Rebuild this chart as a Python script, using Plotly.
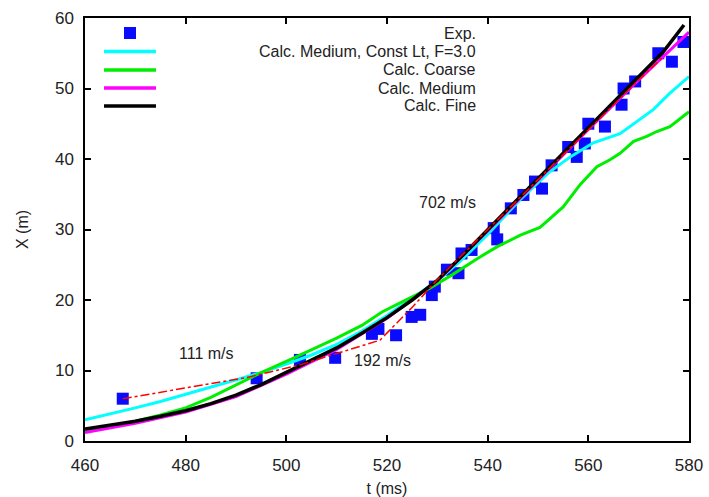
import plotly.graph_objects as go

# ---------------- data ----------------
exp_t = [467.5, 494.1, 502.7, 509.7, 517.0, 518.3, 521.8, 524.9, 526.6, 528.9, 529.5,
         531.9, 534.2, 534.8, 536.8, 541.2, 541.9, 544.6, 547.1, 549.4, 550.8, 552.7,
         556.0, 557.7, 559.3, 560.0, 563.3, 566.6, 567.0, 569.3, 573.9, 576.6, 578.9]
exp_x = [6.0, 8.9, 11.5, 11.8, 15.2, 15.9, 15.0, 17.6, 17.9, 20.7, 21.9,
         24.3, 23.8, 26.6, 27.1, 30.2, 28.6, 33.0, 34.9, 36.8, 35.8, 39.1,
         41.7, 40.3, 42.2, 45.0, 44.6, 47.7, 50.0, 51.0, 55.0, 53.8, 56.6]

fine_t = [460, 465, 470, 475, 480, 485, 490, 495, 500, 505, 510, 515, 520, 525,
          530, 535, 540, 545, 550, 555, 560, 565, 570, 575, 579]
fine_x = [1.7, 2.2, 2.8, 3.5, 4.3, 5.3, 6.5, 8.0, 9.7, 11.4, 13.2, 15.3, 17.5, 20.0,
          22.8, 26.3, 30.0, 33.6, 37.2, 40.8, 44.5, 48.0, 51.7, 55.3, 59.0]

medium_t = [460, 470, 480, 490, 500, 510, 520, 530, 540, 550, 560, 570, 580]
medium_x = [1.2, 2.5, 4.1, 6.3, 9.5, 13.0, 17.4, 22.7, 29.8, 37.0, 44.2, 51.2, 58.0]

constlt_t = [460, 465, 470, 475, 480, 485, 490, 495, 500, 505, 510, 515, 520, 525,
             530, 535, 540, 546.4, 552, 556.4, 561, 566.3, 572.9, 576, 580]
constlt_x = [3.0, 3.8, 4.7, 5.6, 6.6, 7.6, 8.6, 9.7, 10.9, 12.2, 13.7, 15.6, 17.8, 20.2,
             22.7, 25.8, 29.3, 34.2, 38.0, 40.3, 42.3, 43.6, 47.0, 49.2, 51.7]

coarse_t = [460, 465, 470, 475, 480, 485, 490, 495, 500, 505, 510, 515, 519, 524,
            528.6, 533, 538, 542, 546.5, 550.4, 552.4, 555, 558.4, 561.7, 564.3,
            566.3, 569, 571.6, 573.6, 576.2, 580]
coarse_x = [1.3, 2.0, 2.8, 3.7, 4.7, 6.2, 8.0, 9.7, 11.3, 12.9, 14.6, 16.4, 18.3, 20.1,
            21.7, 23.6, 25.9, 27.6, 29.2, 30.3, 31.6, 33.2, 36.4, 38.9, 39.9,
            40.8, 42.5, 43.2, 43.9, 44.6, 46.7]

fit_t = [467.5, 481.0, 492.1, 502.7, 515.3, 518.6, 525.2, 530, 540, 550, 560, 570, 575]
fit_x = [6.0, 7.7, 9.0, 10.8, 13.6, 14.3, 19.1, 22.9, 30.0, 37.1, 44.2, 51.2, 54.6]

legend_names = ["Exp.", "Calc. Medium, Const Lt, F=3.0", "Calc. Coarse",
                "Calc. Medium", "Calc. Fine"]
legend_colors = ["#0a0aff", "#00ffff", "#00ee00", "#ff00ff", "#000000"]

speed_labels = ["111 m/s", "192 m/s", "702 m/s"]
speed_t = [484.2, 519.2, 532.0]
speed_x = [12.4, 11.35, 33.9]

x_ticks = [460, 480, 500, 520, 540, 560, 580]
y_ticks = [0, 10, 20, 30, 40, 50, 60]

# ---------------- figure ----------------
FONT = "Liberation Sans, Arial, sans-serif"
TXT = "#222222"

fig = go.Figure()
fig.add_trace(go.Scatter(x=exp_t, y=exp_x, mode="markers",
                         marker=dict(symbol="square", size=12, color=legend_colors[0],
                                     line=dict(width=0)), showlegend=False))
fig.add_trace(go.Scatter(x=constlt_t, y=constlt_x, mode="lines",
                         line=dict(color=legend_colors[1], width=3), showlegend=False))
fig.add_trace(go.Scatter(x=coarse_t, y=coarse_x, mode="lines",
                         line=dict(color=legend_colors[2], width=3), showlegend=False))
fig.add_trace(go.Scatter(x=medium_t, y=medium_x, mode="lines",
                         line=dict(color=legend_colors[3], width=3), showlegend=False))
fig.add_trace(go.Scatter(x=fine_t, y=fine_x, mode="lines",
                         line=dict(color=legend_colors[4], width=3.5), showlegend=False))
fig.add_trace(go.Scatter(x=fit_t, y=fit_x, mode="lines",
                         line=dict(color="#ff0000", width=1.5, dash="dashdot"),
                         showlegend=False))

for lab, tx, xx in zip(speed_labels, speed_t, speed_x):
    fig.add_annotation(x=tx, y=xx, text=lab, showarrow=False,
                       font=dict(family=FONT, size=16, color=TXT))

# manual legend (right-aligned text, sample on the left)
row_y = [0.9645, 0.9208, 0.8771, 0.8345, 0.7920]
for i, (name, col) in enumerate(zip(legend_names, legend_colors)):
    fig.add_annotation(xref="paper", yref="paper", x=0.6507, y=row_y[i], text=name,
                       showarrow=False, xanchor="right", yanchor="middle",
                       font=dict(family=FONT, size=16, color=TXT))
    if i == 0:
        fig.add_shape(type="rect", xref="paper", yref="paper",
                      x0=0.0745 - 0.0099, x1=0.0745 + 0.0099,
                      y0=row_y[i] - 0.0142, y1=row_y[i] + 0.0142,
                      fillcolor=col, line=dict(width=0))
    else:
        fig.add_shape(type="line", xref="paper", yref="paper",
                      x0=0.0315, x1=0.1175, y0=row_y[i], y1=row_y[i],
                      line=dict(color=col, width=3.5))

axis_common = dict(showgrid=False, zeroline=False, showline=True, linecolor="#000000",
                   linewidth=1.5, mirror="ticks", ticks="inside", ticklen=6,
                   tickwidth=1.5, tickcolor="#000000", automargin=False,
                   tickfont=dict(family=FONT, size=17, color=TXT))
fig.update_xaxes(range=[460, 580], tickvals=x_ticks, ticklabelstandoff=8,
                 title=dict(text="t (ms)", font=dict(family=FONT, size=16, color=TXT),
                            standoff=9), **axis_common)
fig.update_yaxes(range=[0, 60], tickvals=y_ticks, ticklabelstandoff=6,
                 title=dict(text="X (m)", font=dict(family=FONT, size=16, color=TXT),
                            standoff=22), **axis_common)

fig.update_layout(width=709, height=497, margin=dict(l=85, r=20, t=18, b=56),
                  paper_bgcolor="white", plot_bgcolor="white", showlegend=False)

fig.write_html("out.html")
